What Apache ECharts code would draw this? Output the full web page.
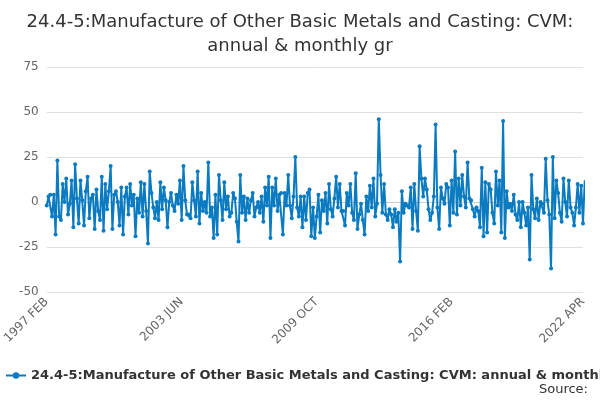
<!DOCTYPE html>
<html><head><meta charset="utf-8">
<script src="https://cdn.jsdelivr.net/npm/echarts@6/dist/echarts.min.js"></script>
<style>body{margin:0}#c{width:600px;height:400px}</style></head>
<body><div id="c"></div>
<script>
var months = ['JAN','FEB','MAR','APR','MAY','JUN','JUL','AUG','SEP','OCT','NOV','DEC'];
var categories = [];
for (var y = 1997; y <= 2022; y++) {
    for (var m = 0; m < 12; m++) {
        if (y === 1997 && m < 1) continue;
        if (y === 2022 && m > 3) continue;
        categories.push(y + ' ' + months[m]);
    }
}
var values = [
 -2,3,4,-8,4,-18,23,-8,-10,10,0,13,
 -7,-1,12,-14,21,2,-12,12,1,-13,6,14,
 -9,2,4,-15,7,-5,-10,14,-16,10,-4,6,
 20,-15,4,6,0,-13,8,-18,3,8,-7,10,
 -2,4,-19,2,-6,11,-8,10,-5,-23,17,5,
 -3,-9,0,-10,11,-4,8,1,-14,0,5,-2,
 -5,4,-1,12,-10,20,1,-7,-7,-9,11,1,
 -8,17,-12,5,-5,0,-6,22,-8,-3,-20,4,
 -18,15,1,-10,11,-4,3,-8,-6,5,2,-11,
 -22,15,-6,3,-10,2,-6,1,5,-8,-3,0,
 -6,3,-11,8,-2,14,-20,8,-2,13,-5,4,
 5,-18,5,-2,15,-2,-9,3,25,-3,-8,3,
 -14,3,-10,5,7,-19,-3,-20,-8,4,-17,1,
 -5,5,-12,10,-4,-8,2,14,-3,10,-5,-5,
 -13,5,-2,10,-6,-10,16,-15,-7,-1,-10,-18,
 3,-5,9,-3,13,-8,-1,46,15,-6,10,-7,
 -10,-4,-7,-14,-4,-11,-6,-33,6,-6,-1,-2,
 -3,8,-15,10,-5,-16,31,13,3,13,7,-4,
 -10,-6,3,43,-3,-15,8,2,-1,10,8,-13,
 12,-6,28,-7,13,-2,15,3,-3,22,2,1,
 -4,-8,-3,-5,-14,19,-19,11,-17,10,7,-6,
 -12,17,-2,12,-17,45,-20,6,-3,-1,-5,4,
 -7,-10,0,-14,0,-6,-13,-3,-32,15,-4,-9,
 2,-10,0,-1,-6,24,1,-7,-37,25,-9,12,
 5,-6,-11,13,0,-8,12,-3,-6,-13,-3,10,
 -6,9,-12,12,0,-25,20,9,-9
];

var chart = echarts.init(document.getElementById('c'));
chart.setOption({
    textStyle: {fontFamily: 'DejaVu Sans'},
    title: {
        text: '24.4-5:Manufacture of Other Basic Metals and Casting: CVM:\nannual & monthly gr',
        left: 'center', top: 5,
        textStyle: {fontSize: 18, fontWeight: 'normal', color: '#333', lineHeight: 24, fontFamily: 'DejaVu Sans'}
    },
    legend: {
        top: 364, left: 0, itemWidth: 20, itemHeight: 8,
        data: ['24.4-5:Manufacture of Other Basic Metals and Casting: CVM: annual & monthly gr'],
        textStyle: {fontSize: 13, fontWeight: 'bold', color: '#333', fontFamily: 'DejaVu Sans'}
    },
    graphic: [{type: 'text', right: 12, top: 383, style: {text: 'Source:', fontSize: 13, fill: '#333', fontFamily: 'DejaVu Sans'}}],
    grid: {left: 40, right: 17, top: 67, bottom: 108},
    xAxis: {
        type: 'category', data: categories, boundaryGap: false,
        axisLabel: {
            rotate: 45, color: '#666', fontSize: 12,
            interval: function (i) { return i === 0 || i === 76 || i === 152 || i === 228 || i === 302; }
        },
        axisTick: {show: false},
        axisLine: {lineStyle: {color: '#ccc'}}
    },
    yAxis: {
        type: 'value', min: -50, max: 75, interval: 25,
        axisLabel: {color: '#666', fontSize: 12},
        splitLine: {lineStyle: {color: '#e0e0e0'}}
    },
    series: [{
        name: '24.4-5:Manufacture of Other Basic Metals and Casting: CVM: annual & monthly gr',
        type: 'line', data: values,
        symbol: 'circle', symbolSize: 4, showAllSymbol: true,
        lineStyle: {width: 2, color: '#0a7bc1'},
        itemStyle: {color: '#0a7bc1'}
    }]
});
</script></body></html>
